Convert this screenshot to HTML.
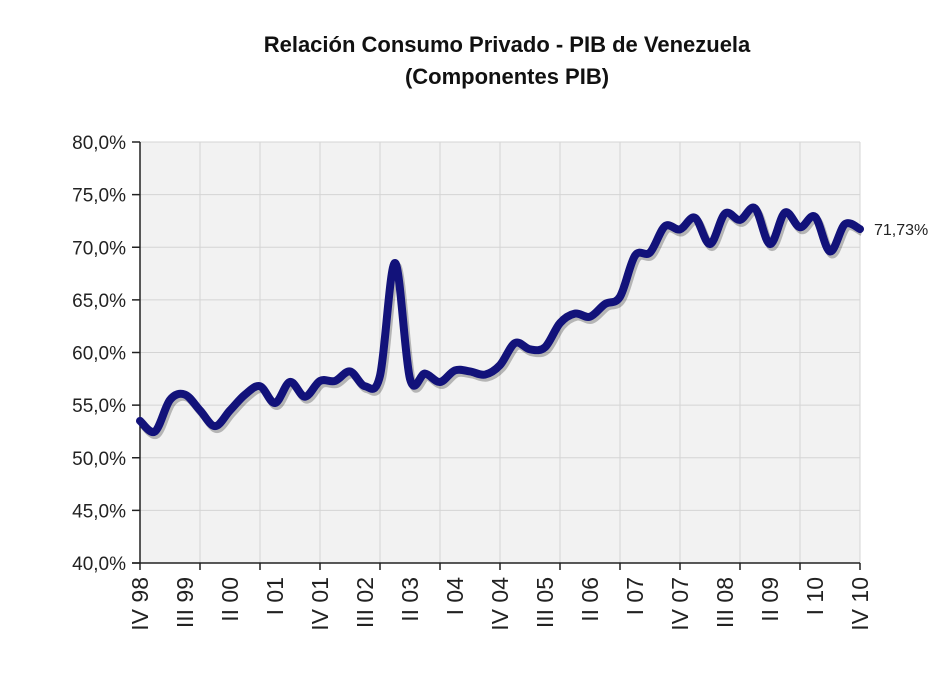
<!DOCTYPE html>
<html><head><meta charset="utf-8"><style>
body{margin:0;background:#fff;}
svg text{font-family:"Liberation Sans",sans-serif;}
</style></head><body>
<svg width="944" height="684">
<text x="507" y="52" text-anchor="middle" font-size="22" font-weight="bold" fill="#111">Relación Consumo Privado - PIB de Venezuela</text>
<text x="507" y="84" text-anchor="middle" font-size="22" font-weight="bold" fill="#111">(Componentes PIB)</text>
<rect x="140" y="142" width="720" height="421" fill="#f2f2f2"/>
<g id="grid"></g><g id="axes"></g><g id="series"></g>
</svg>
<script>
const yTicks=[40,45,50,55,60,65,70,75,80];
const xLabels=["IV 98","III 99","II 00","I 01","IV 01","III 02","II 03","I 04","IV 04","III 05","II 06","I 07","IV 07","III 08","II 09","I 10","IV 10"];
const values=[53.5,52.5,55.5,56,54.5,53,54.5,56,56.8,55.2,57.2,55.8,57.3,57.3,58.2,56.8,57.8,68.5,57.5,58,57.2,58.3,58.2,57.9,58.8,60.9,60.3,60.5,62.8,63.7,63.4,64.6,65.3,69.2,69.5,72,71.7,72.8,70.3,73.2,72.6,73.7,70.3,73.3,71.9,72.9,69.6,72.2,71.73];
const lastLabel="71,73%";
const X0=140,X1=860,Y0=563,Y1=142,ymin=40,ymax=80;
const xs=i=>X0+(X1-X0)*i/(values.length-1);
const ys=v=>Y0-(v-ymin)/(ymax-ymin)*(Y0-Y1);
const NS="http://www.w3.org/2000/svg";
function mk(t,a,p){const e=document.createElementNS(NS,t);for(const k in a)e.setAttribute(k,a[k]);p.appendChild(e);return e;}
const grid=document.getElementById('grid'),axes=document.getElementById('axes'),ser=document.getElementById('series');
yTicks.forEach(t=>{const y=ys(t);
 if(t>ymin){const l=mk('line',{x1:X0,x2:X1,y1:y,y2:y,stroke:'#d4d4d4','stroke-width':1},grid);
 
 }
 mk('line',{x1:X0-8,x2:X0,y1:y,y2:y,stroke:'#222','stroke-width':1.5},axes);
 const tx=mk('text',{x:X0-14,y:y+7,'text-anchor':'end','font-size':19,fill:'#222'},axes);
 tx.textContent=t.toFixed(1).replace('.',',')+'%';
 
 
});
for(let i=0;i<values.length;i+=4){const x=xs(i);
 if(i>0){const g=mk('line',{x1:x,x2:x,y1:Y1,y2:Y0,stroke:'#d4d4d4','stroke-width':1},grid);
 
 }
 mk('line',{x1:x,x2:x,y1:Y0,y2:Y0+7,stroke:'#222','stroke-width':1.5},axes);
}
xLabels.forEach((s,k)=>{const x=xs(k*3);
 const t=mk('text',{x:0,y:0,'text-anchor':'end','font-size':23,fill:'#222',transform:`translate(${x+8},${Y0+14}) rotate(-90)`},axes);
 t.textContent=s;
 
 
});
mk('line',{x1:X0,x2:X0,y1:Y1,y2:Y0,stroke:'#222','stroke-width':1.5},axes);
mk('line',{x1:X0-8,x2:X1,y1:Y0,y2:Y0,stroke:'#222','stroke-width':1.5},axes);
const P=values.map((v,i)=>[xs(i),ys(v)]);
let d=`M${P[0][0]},${P[0][1]}`;
for(let i=0;i<P.length-1;i++){const p0=P[Math.max(0,i-1)],p1=P[i],p2=P[i+1],p3=P[Math.min(P.length-1,i+2)];
 d+=` C${p1[0]+(p2[0]-p0[0])/6},${p1[1]+(p2[1]-p0[1])/6} ${p2[0]-(p3[0]-p1[0])/6},${p2[1]-(p3[1]-p1[1])/6} ${p2[0]},${p2[1]}`;}
const sh=mk('path',{d:d,fill:'none',stroke:'rgba(0,0,0,0.25)','stroke-width':8,transform:'translate(2,3)','stroke-linejoin':'round'},ser);


const ln=mk('path',{d:d,fill:'none',stroke:'#12127a','stroke-width':8,'stroke-linecap':'round','stroke-linejoin':'round'},ser);


const lb=mk('text',{x:X1+14,y:ys(values[values.length-1])+6,'font-size':16,fill:'#222'},ser);
lb.textContent=lastLabel;


</script>
</body></html>
